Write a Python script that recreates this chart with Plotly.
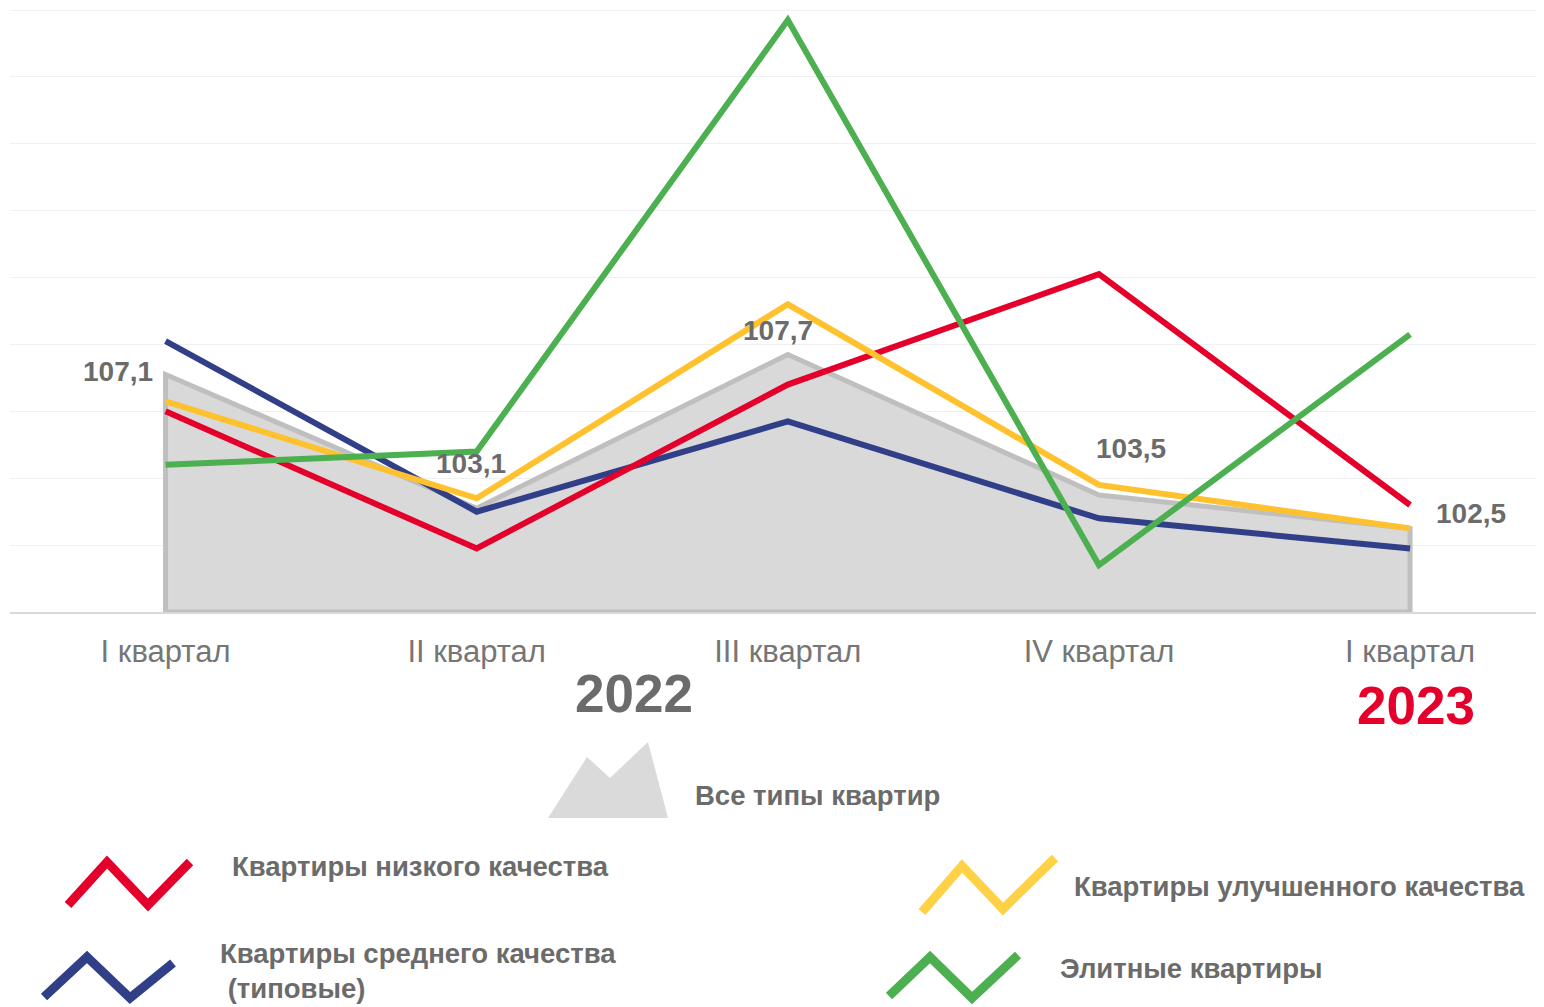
import plotly.graph_objects as go

# ---------------- data ----------------
quarters = ["I квартал", "II квартал", "III квартал", "IV квартал", "I квартал"]
years = ["2022", "2023"]
all_types = [107.1, 103.1, 107.7, 103.5, 102.5]          # Все типы квартир
low_quality = [106.0, 101.9, 106.8, 110.1, 103.2]        # Квартиры низкого качества
mid_quality = [108.1, 103.0, 105.7, 102.8, 101.9]        # Квартиры среднего качества (типовые)
improved_quality = [106.3, 103.4, 109.2, 103.8, 102.5]   # Квартиры улучшенного качества
elite = [104.4, 104.8, 117.7, 101.4, 108.3]              # Элитные квартиры

series_names = ["Квартиры среднего качества (типовые)", "Квартиры низкого качества",
                "Квартиры улучшенного качества", "Элитные квартиры"]
series_values = [mid_quality, low_quality, improved_quality, elite]
series_colors = ["#303f88", "#e4002b", "#ffc22e", "#4caf50"]

# ---------------- layout geometry ----------------
# the page body has an 8px margin, so the figure starts at (8, 8) in the window
OFF = 8
W, H = 1544 - OFF, 1007 - OFF
GRID_TOP, PLOT_BOTTOM = 10, 612          # window pixels of the 118 gridline / baseline
PLOT_LEFT = 10
Y0, Y_TOP_GRID = 100, 118
UNIT = (PLOT_BOTTOM - GRID_TOP) / (Y_TOP_GRID - Y0)   # pixels per unit
PLOT_TOP = OFF                                         # plot area starts at figure top
Y1 = Y0 + (PLOT_BOTTOM - PLOT_TOP) / UNIT

L, R = PLOT_LEFT - OFF, 0
T = PLOT_TOP - OFF
B = H - (PLOT_BOTTOM - OFF)
PW, PH = W - L - R, PLOT_BOTTOM - PLOT_TOP


def px_x(p):
    return (p - PLOT_LEFT) / PW


def px_y(p):
    return (PLOT_BOTTOM - p) / PH


TXT = "#6b6b6b"
FONT = "Liberation Sans, Arial, sans-serif"

xs = list(range(len(quarters)))
fig = go.Figure()

# area polygon (all apartment types)
poly_x = [xs[0]] + xs + [xs[-1], xs[0]]
poly_y = [Y0] + all_types + [Y0, Y0]
fig.add_trace(go.Scatter(x=poly_x, y=poly_y, mode="lines", fill="toself",
                         fillcolor="#d9d9d9", line=dict(color="#bfbfbf", width=5),
                         name="Все типы квартир", hoverinfo="skip"))

for name, vals, col in zip(series_names, series_values, series_colors):
    fig.add_trace(go.Scatter(x=xs, y=vals, mode="lines", name=name,
                             line=dict(color=col, width=6)))

# data labels for all types
label_shift = [(-48, 3), (-6, 45), (-10, 24), (32, 46), (61, 15)]
annotations = []
for x, v, (dx, dy) in zip(xs, all_types, label_shift):
    annotations.append(dict(x=x, y=v, xref="x", yref="y", text=f"{v:.1f}".replace(".", ","),
                            showarrow=False, xshift=dx, yshift=dy,
                            font=dict(family=FONT, size=28, color=TXT, weight="bold")))

# years
annotations.append(dict(x=1.507, y=px_y(693), xref="x", yref="paper", text=years[0],
                        showarrow=False, yanchor="middle",
                        font=dict(family=FONT, size=53, color="#6b6b6b", weight="bold")))
annotations.append(dict(x=4.02, y=px_y(705), xref="x", yref="paper", text=years[1],
                        showarrow=False, yanchor="middle",
                        font=dict(family=FONT, size=53, color="#e4002b", weight="bold")))

# ---------------- custom legend ----------------
shapes = []


def path_from(points, close=False):
    s = "M " + " L ".join(f"{px_x(a)},{px_y(b)}" for a, b in points)
    return s + (" Z" if close else "")


# mountain icon for area
shapes.append(dict(type="path", xref="paper", yref="paper",
                   path=path_from([(548, 818), (587, 757), (610, 778), (648, 742), (668, 818)], True),
                   fillcolor="#dadada", line=dict(width=0)))

zigzags = [
    ([(68, 905), (107, 862), (148, 905), (190, 862)], "#e4002b"),
    ([(44, 997), (87, 957), (130, 998), (173, 963)], "#303f88"),
    ([(922, 912), (962, 866), (1003, 909), (1055, 858)], "#ffd147"),
    ([(889, 996), (930, 957), (972, 998), (1018, 955)], "#4caf50"),
]
for pts, col in zigzags:
    shapes.append(dict(type="path", xref="paper", yref="paper", path=path_from(pts),
                       line=dict(color=col, width=9)))

legend_texts = [
    ("Все типы квартир", 693, 795),
    ("Квартиры низкого качества", 230, 866),
    ("Квартиры среднего качества", 218, 953),
    (" (типовые)", 218, 988),
    ("Квартиры улучшенного качества", 1072, 886),
    ("Элитные квартиры", 1058, 968),
]
for t, x, y in legend_texts:
    annotations.append(dict(x=px_x(x), y=px_y(y), xref="paper", yref="paper", text=t,
                            showarrow=False, xanchor="left", yanchor="middle",
                            font=dict(family=FONT, size=27.5, color=TXT, weight="bold")))

fig.update_layout(
    width=W, height=H,
    margin=dict(l=L, r=R, t=T, b=B),
    paper_bgcolor="white", plot_bgcolor="white",
    showlegend=False,
    annotations=annotations, shapes=shapes,
    xaxis=dict(range=[-0.5, 4 + (1544 - 1410) / 311.25], tickmode="array", tickvals=xs,
               ticktext=quarters,
               showgrid=False, zeroline=False, showline=True, linecolor="#d9d9d9", linewidth=2,
               ticks="", ticklabelstandoff=11,
               tickfont=dict(family=FONT, size=31, color="#767676")),
    yaxis=dict(range=[Y0, Y1], tick0=Y0, dtick=2, showgrid=True, gridcolor="#f0f0f0", gridwidth=1,
               zeroline=False, showticklabels=False, showline=False),
)

fig.write_html("out.html")
